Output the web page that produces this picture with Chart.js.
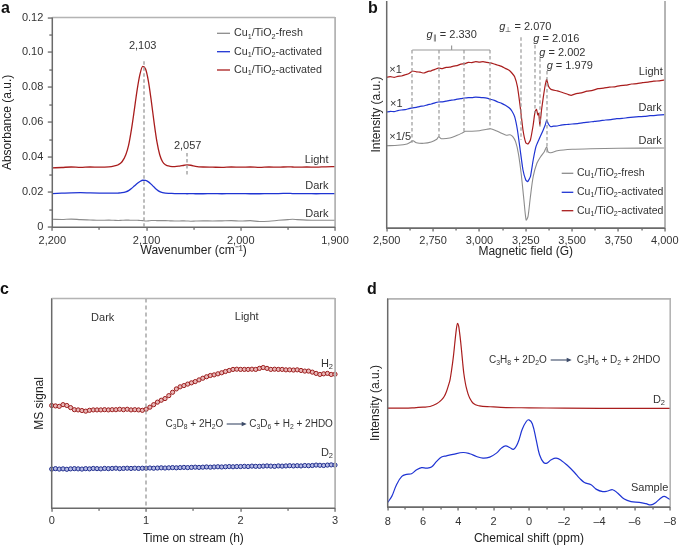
<!DOCTYPE html>
<html><head><meta charset="utf-8">
<script src="https://cdn.jsdelivr.net/npm/chart.js@4.4.1/dist/chart.umd.min.js"></script>
<style>
body{margin:0;background:#fff;width:685px;height:547px;overflow:hidden;position:relative}
canvas{position:absolute}
.frame{position:absolute;box-sizing:border-box;pointer-events:none;border-left:1.5px solid #6a6a6a;border-bottom:1.5px solid #6a6a6a;border-top:1.5px solid #b4b4b4;border-right:1.5px solid #b4b4b4}
.frame.notop{border-top:none}
</style></head><body>
<canvas id="ca" width="360" height="270" style="left:0;top:0"></canvas>
<canvas id="cb" width="343" height="270" style="left:342px;top:0"></canvas>
<canvas id="cc" width="360" height="277" style="left:0;top:270px"></canvas>
<canvas id="cd" width="343" height="277" style="left:342px;top:270px"></canvas>
<script>
// ---------- Panel a: IR spectra ----------
const aWavenumber = [2200,2190,2180,2170,2160,2150,2140,2135,2130,2126,2122,2119,2116,2113,2110,2107,2104,2101,2098,2095,2092,2089,2086,2083,2080,2075,2070,2065,2060,2057,2053,2048,2040,2030,2020,2010,2000,1990,1980,1970,1960,1950,1945,1940,1930,1920,1910,1900];
const aFreshDark = [.0046,.0045,.0047,.0044,.0042,.0040,.0041,.0040,.0039,.0040,.0041,.0041,.0040,.0040,.0040,.0039,.0038,.0036,.0037,.0039,.0039,.0038,.0038,.0038,.0038,.0037,.0036,.0036,.0037,.0036,.0035,.0036,.0037,.0036,.0037,.0038,.0036,.0038,.0033,.0035,.0040,.0044,.0046,.0044,.0041,.0040,.0040,.0040];
const aActivatedDark = [.0193,.0195,.0197,.0198,.0197,.0196,.0195,.0195,.0196,.0198,.0203,.0210,.0222,.0236,.0250,.0262,.0269,.0268,.0260,.0246,.0230,.0215,.0204,.0198,.0195,.0194,.0193,.0193,.0193,.0192,.0193,.0192,.0192,.0193,.0192,.0193,.0193,.0192,.0192,.0193,.0193,.0194,.0193,.0193,.0193,.0192,.0193,.0193];
const aActivatedLight = [.0340,.0342,.0345,.0343,.0345,.0344,.0346,.0350,.0358,.0375,.0415,.0470,.0560,.0670,.0785,.0875,.0920,.0905,.0835,.0725,.0600,.0490,.0415,.0375,.0358,.0349,.0347,.0350,.0355,.0357,.0355,.0349,.0345,.0344,.0343,.0345,.0344,.0345,.0343,.0345,.0344,.0346,.0345,.0344,.0345,.0344,.0346,.0347];
const aXMinor = [2150,2050,1950];
const aYMinor = [0.01,0.03,0.05,0.07,0.09,0.11];

// ---------- Panel b: EPR spectra ----------
const bFreshField = [2500,2560,2610,2630,2642,2660,2700,2740,2770,2780,2795,2840,2880,2910,2925,2960,3000,3040,3060,3090,3120,3145,3165,3180,3195,3210,3225,3240,3252,3262,3275,3290,3310,3330,3350,3363,3370,3385,3420,3500,3600,3750,4000];
const bFreshIntensity = [82.3,82.7,84,86,87.3,85.3,84.7,86,88.7,91.3,89.3,90,92.7,95.3,96.7,96.7,97.3,98.7,99.3,97.3,94.7,92.7,93.3,91.3,86.3,74.7,54.7,28,8,11.3,31.3,51.3,64.7,71.3,76.3,81.3,76.3,75.3,77.3,78.7,79.3,79.7,80];
const bDarkField = [2500,2520,2540,2560,2580,2600,2620,2640,2660,2680,2700,2720,2740,2760,2780,2800,2820,2840,2860,2880,2900,2920,2940,2960,2980,3000,3020,3040,3060,3080,3100,3120,3140,3160,3175,3190,3205,3220,3235,3250,3260,3275,3290,3305,3320,3340,3355,3363,3372,3385,3400,3420,3440,3460,3480,3500,3530,3560,3590,3620,3650,3680,3710,3740,3770,3800,3830,3860,3890,3920,3960,4000];
const bDarkIntensity = [116.0,116.6,116.4,117.4,118.0,118.4,119.4,120.2,120.6,121.6,122.0,123.2,124.0,125.2,126.0,126.2,126.8,127.6,128.0,128.8,129.3,130.0,130.4,130.4,130.8,130.6,130.3,129.8,128.7,127.6,126.0,124.6,122.7,120.2,117.0,111.3,98,78,58,48,46.3,51.3,68,81.3,88,96.3,103,108,104,101.3,101.8,102.0,102.8,103.3,103.6,104.0,104.4,105.3,105.8,106.7,107.2,108.0,108.4,109.3,109.6,110.3,110.8,111.3,111.6,112.3,112.8,113.3];
const bLightField = [2500,2520,2540,2560,2580,2600,2620,2640,2660,2680,2700,2720,2740,2760,2780,2800,2820,2840,2860,2880,2900,2920,2940,2960,2980,3000,3020,3040,3060,3080,3100,3120,3140,3160,3175,3190,3205,3220,3235,3250,3262,3275,3290,3300,3308,3315,3320,3326,3335,3345,3355,3363,3372,3385,3400,3420,3440,3460,3480,3495,3510,3530,3550,3580,3610,3640,3670,3700,3730,3760,3790,3820,3850,3880,3910,3940,3970,4000];
const bLightIntensity = [150.7,151.3,150.6,151.6,152.0,153.2,154.5,157.0,156.2,155.8,155.0,156.4,157.2,158.6,159.8,159.4,160.6,160.8,161.9,162.4,163.9,164.2,165.6,165.4,166.3,165.8,166.4,165.6,165.2,164.0,162.8,161.6,159.6,157.8,155.0,151.3,141.3,121.3,98,85.3,84,88,103,116.3,118.7,113,114.7,103,118,131.3,143,148.7,142,138.7,137.8,137.2,136.0,134.8,133.4,132.7,133.6,134.6,135.2,136.8,137.6,139.4,139.8,140.8,141.2,142.4,142.8,144.0,144.4,145.4,145.8,146.8,147.2,148.0];
const bXMinor = [2625,2875,3125,3375,3625,3875];
const bGParallel = [2638,2779.5,2919,3057];

// ---------- Panel c: MS signal ----------
const cTime = [0,0.04,0.08,0.12,0.16,0.2,0.24,0.28,0.32,0.36,0.4,0.44,0.48,0.52,0.56,0.6,0.64,0.68,0.72,0.76,0.8,0.84,0.88,0.92,0.96,1,1.04,1.08,1.12,1.16,1.2,1.24,1.28,1.32,1.36,1.4,1.44,1.48,1.52,1.56,1.6,1.64,1.68,1.72,1.76,1.8,1.84,1.88,1.92,1.96,2,2.04,2.08,2.12,2.16,2.2,2.24,2.28,2.32,2.36,2.4,2.44,2.48,2.52,2.56,2.6,2.64,2.68,2.72,2.76,2.8,2.84,2.88,2.92,2.96,3];
const cH2 = [49.0,48.8,48.6,49.4,49.0,48.0,47.0,46.9,46.6,46.3,46.7,46.9,46.9,46.9,47.0,46.9,47.0,47.0,47.2,47.0,47.2,46.9,47.0,46.9,46.7,47.2,48.2,49.4,50.6,51.5,52.3,53.7,55.3,56.9,57.9,58.5,59.2,59.8,60.4,61.2,62.0,62.7,63.3,63.6,64.1,64.6,65.2,65.7,66.2,66.3,66.2,66.2,66.2,66.3,66.2,66.7,67.1,66.7,66.2,66.3,66.2,66.2,66.0,66.0,65.9,66.0,65.7,65.4,65.4,64.9,64.3,63.8,64.1,64.3,63.8,63.9];
const cD2 = [18.7,18.9,18.7,18.8,18.6,18.8,18.9,18.8,18.7,18.9,18.8,19.0,18.9,18.8,19.0,18.9,19.0,19.1,18.9,19.0,19.1,19.0,19.1,19.0,19.1,19.1,19.2,19.1,19.2,19.3,19.2,19.3,19.4,19.3,19.4,19.5,19.4,19.5,19.6,19.5,19.6,19.7,19.6,19.7,19.8,19.7,19.8,19.9,19.8,19.9,19.9,20.0,19.9,20.1,20.0,20.0,20.1,20.2,20.1,20.0,20.2,20.1,20.2,20.3,20.2,20.3,20.2,20.4,20.3,20.4,20.6,20.5,20.4,20.6,20.7,20.6];
const cXMinor = [0.5,1.5,2.5];

// ---------- Panel d: NMR ----------
const dShiftD2 = [8,7,6.5,6,5.6,5.23,4.95,4.8,4.67,4.55,4.47,4.38,4.28,4.2,4.14,4.05,3.98,3.9,3.82,3.75,3.69,3.6,3.54,3.45,3.35,3.16,2.8,2.2,1.3,0,-2,-4,-6,-8];
const dIntensityD2 = [47.5,47.5,47.7,48.0,48.3,49.6,51.5,53.1,55.5,58.7,61.1,65.9,72.3,78.7,83.5,88.3,87.0,81.9,75.5,69.1,64.3,59.5,57.1,54.4,52.3,49.9,48.6,48.2,47.8,47.7,47.5,47.4,47.4,47.4];
const dShiftSample = [8,7.77,7.5,7.2,6.93,6.65,6.36,6.08,5.8,5.52,5.23,4.95,4.67,4.3,3.73,3.35,2.97,2.6,2.22,1.84,1.56,1.32,1.09,0.87,0.62,0.38,0.15,0,-0.19,-0.41,-0.6,-0.83,-1.02,-1.26,-1.54,-1.83,-2.2,-2.58,-2.86,-3.14,-3.52,-3.8,-4.18,-4.46,-4.74,-5.02,-5.4,-5.78,-6.25,-6.63,-6.91,-7.19,-7.47,-7.66,-7.85,-8];
const dIntensitySample = [2.2,5.1,10.7,14.7,15.7,16.0,17.9,18.9,18.7,19.2,21.9,24.0,24.6,25.3,26.2,25.6,24.3,23.5,24.0,25.9,28.3,29.4,28.6,27.8,31.0,37.4,41.1,41.9,40.0,32.3,25.1,21.4,21.1,22.7,23.5,22.4,19.8,16.6,13.9,11.8,10.7,8.6,7.4,7.7,8.3,6.7,3.8,2.6,2.2,1.6,1.0,2.2,4.3,5.1,4.3,3.5];
const dXMinor = [7,5,3,1,-1,-3,-5,-7];

// ---------- styling ----------
const FONT = "'Liberation Sans', Arial, Helvetica, sans-serif";
Chart.defaults.font.family = FONT;
Chart.defaults.color = '#333';
const RED = '#a91d1d', BLUE = '#1f34d3', GRAY = '#8c8c8c';
const C_RED_M = '#9b1c1c', C_BLUE_M = '#1d2b8c';
const AXIS = '#6a6a6a', FRAME = '#b0b0b0';

const pts = (xs, ys) => xs.map((x, i) => ({x, y: ys[i]}));

function rich(ctx, str, x, y, size, align, color) {
  const segs = []; let it = false; let cur = {t: '', m: 0, it};
  const push = () => { if (cur.t) segs.push(cur); };
  for (let i = 0; i < str.length; i++) {
    const c = str[i];
    if (c === '_' || c === '^') { push(); segs.push({t: str[i+1], m: c === '_' ? 1 : -1, it}); i++; cur = {t: '', m: 0, it}; }
    else if (c === '~') { push(); it = !it; cur = {t: '', m: 0, it}; }
    else cur.t += c;
  }
  push();
  const fontOf = s => (s.it ? 'italic ' : '') + (s.m ? size * 0.68 : size) + 'px ' + FONT;
  let w = 0;
  for (const s of segs) { ctx.font = fontOf(s); s.w = ctx.measureText(s.t).width; w += s.w; }
  let px = align === 'center' ? x - w / 2 : align === 'right' ? x - w : x;
  ctx.fillStyle = color; ctx.textBaseline = 'middle'; ctx.textAlign = 'left';
  for (const s of segs) {
    ctx.font = fontOf(s);
    ctx.fillText(s.t, px, y + (s.m === 1 ? size * 0.3 : s.m === -1 ? -size * 0.35 : 0));
    px += s.w;
  }
}

// frame and tick marks, positioned through the chart's scales
const frameTicks = {
  id: 'frameTicks',
  afterDraw(chart) {
    const o = chart.config.options.plugins.decor || {};
    const ctx = chart.ctx, ca = chart.chartArea;
    const xs = chart.scales.x, ys = chart.scales.y;
    const seg = (x1, y1, x2, y2) => { ctx.beginPath(); ctx.moveTo(x1, y1); ctx.lineTo(x2, y2); ctx.stroke(); };
    ctx.save();
    ctx.setLineDash([]);
    ctx.lineWidth = 1.5;
    ctx.strokeStyle = FRAME;
    if (o.frameTop !== false) seg(ca.left, ca.top, ca.right, ca.top + 0.01);
    seg(ca.right, ca.top, ca.right + 0.01, ca.bottom);
    ctx.strokeStyle = AXIS;
    seg(ca.left, ca.top, ca.left + 0.01, ca.bottom);
    seg(ca.left, ca.bottom, ca.right, ca.bottom + 0.01);
    ctx.fillStyle = AXIS;
    const tickX = (v, len) => { const p = Math.round(xs.getPixelForValue(v)); ctx.fillRect(p - 0.6, ca.bottom, 1.3, len); };
    const tickY = (v, len) => { const p = Math.round(ys.getPixelForValue(v)); ctx.fillRect(ca.left - len, p - 0.6, len, 1.3); };
    xs.ticks.forEach(t => tickX(t.value, 3.5));
    (o.minorX || []).forEach(v => tickX(v, 2.5));
    if (o.yTicks) {
      ys.ticks.forEach(t => tickY(t.value, 4.5));
      (o.minorY || []).forEach(v => tickY(v, 3));
    }
    ctx.restore();
  }
};

const decor = {
  id: 'decor',
  afterDraw(chart, args, o) {
    const ctx = chart.ctx;
    const xs = chart.scales.x, ys = chart.scales.y;
    const X = v => xs.getPixelForValue(v), Y = v => ys.getPixelForValue(v);
    const ox = o.ox, oy = o.oy;
    const seg = (x1, y1, x2, y2) => { ctx.beginPath(); ctx.moveTo(x1, y1); ctx.lineTo(x2, y2); ctx.stroke(); };
    ctx.save();
    ctx.lineWidth = 1.2;
    ctx.strokeStyle = '#999';
    (o.lines || []).forEach(d => seg(X(d.x0), Y(d.y0), X(d.x1), Y(d.y1)));
    ctx.setLineDash(o.dash || [3.5, 2.5]);
    ctx.lineWidth = o.dashWidth || 1.2;
    (o.dashes || []).forEach(d => { const p = Math.round(X(d.x)); seg(p, Y(d.y0), p, Y(d.y1)); });
    ctx.setLineDash([]);
    ctx.lineWidth = 1;
    (o.arrows || []).forEach(a => {
      ctx.strokeStyle = '#3d4b68'; ctx.fillStyle = '#3d4b68'; ctx.lineWidth = 1.1;
      const y = a.y - oy;
      seg(a.x0 - ox, y, a.x1 - ox - 4, y);
      ctx.beginPath(); ctx.moveTo(a.x1 - ox, y); ctx.lineTo(a.x1 - ox - 5, y - 2.3); ctx.lineTo(a.x1 - ox - 5, y + 2.3); ctx.closePath(); ctx.fill();
    });
    (o.texts || []).forEach(t => rich(ctx, t.s, t.x - ox, t.y - oy, t.size || 11, t.align || 'left', t.color || '#333'));
    if (o.legend) {
      const g = o.legend;
      g.rows.forEach(r => {
        ctx.strokeStyle = r.c; ctx.lineWidth = 1.3;
        seg(g.x0 - ox, r.y - oy, g.x1 - ox, r.y - oy);
        rich(ctx, r.s, g.tx - ox, r.y - oy, g.size || 11, 'left', '#333');
      });
    }
    if (o.letter) {
      ctx.font = 'bold 16px ' + FONT; ctx.fillStyle = '#111'; ctx.textAlign = 'left'; ctx.textBaseline = 'alphabetic';
      ctx.fillText(o.letter.s, o.letter.x - ox, o.letter.y - oy);
    }
    ctx.restore();
  }
};

function baseOptions(p) {
  return {
    responsive: false, animation: false, devicePixelRatio: 1,
    layout: {padding: {top: p.top, right: p.right, left: 0, bottom: 0}},
    plugins: {legend: {display: false}, tooltip: {enabled: false}, decor: p.decor},
    elements: {point: {radius: 0}},
    scales: {
      x: {
        type: 'linear', reverse: !!p.reverse, min: p.xmin, max: p.xmax,
        afterFit: s => { s.height = p.xh; },
        grid: {display: false, drawTicks: false},
        border: {display: false},
        ticks: {stepSize: p.xstep, padding: p.xpad, autoSkip: false, maxRotation: 0, font: {size: 11}, color: '#333', callback: p.xfmt},
        title: {display: true, text: p.xtitle, color: '#222', font: {size: 12}, padding: {top: 0, bottom: p.xtpad}}
      },
      y: {
        type: 'linear', min: p.ymin, max: p.ymax,
        afterFit: s => { s.width = p.yw; },
        grid: {display: false, drawTicks: false},
        border: {display: false},
        ticks: p.yticks ? {stepSize: p.ystep, padding: p.ypad, font: {size: 11}, color: '#333', callback: p.yfmt} : {display: false},
        title: {display: true, text: p.ytitle, color: '#222', font: {size: 12}, padding: {top: p.ytpad, bottom: 0}}
      }
    }
  };
}

// box around each plot area, placed from the chart's computed chartArea
function addFrame(chart, left, top, noTop) {
  const ca = chart.chartArea;
  const d = document.createElement('div');
  d.className = 'frame' + (noTop ? ' notop' : '');
  d.style.left = (left + ca.left - 0.75) + 'px';
  d.style.top = (top + ca.top - (noTop ? 0 : 0.75)) + 'px';
  d.style.width = (ca.right - ca.left + 1.5) + 'px';
  d.style.height = (ca.bottom - ca.top + (noTop ? 0.75 : 1.5)) + 'px';
  document.body.appendChild(d);
}

const comma = v => Number(v).toLocaleString('en-US');

// ---- a ----
const chartA = new Chart(document.getElementById('ca'), {
  type: 'line',
  data: {datasets: [
    {data: pts(aWavenumber, aFreshDark), borderColor: GRAY, borderWidth: 1.1, cubicInterpolationMode: 'monotone'},
    {data: pts(aWavenumber, aActivatedDark), borderColor: BLUE, borderWidth: 1.3, cubicInterpolationMode: 'monotone'},
    {data: pts(aWavenumber, aActivatedLight), borderColor: RED, borderWidth: 1.3, cubicInterpolationMode: 'monotone'}
  ]},
  options: baseOptions({
    top: 17.5, right: 25, xh: 42.7, yw: 52.3, reverse: true, xmin: 1900, xmax: 2200, xstep: 100, xpad: 7.1, xfmt: comma,
    xtitle: 'Wavenumber (cm⁻¹)', xtpad: 12,
    ymin: 0, ymax: 0.12, yticks: true, ystep: 0.02, ypad: 9, yfmt: v => v === 0 ? '0' : v.toFixed(2),
    ytitle: 'Absorbance (a.u.)', ytpad: 0.5,
    decor: {
      ox: 0, oy: 0, yTicks: true, minorX: aXMinor, minorY: aYMinor,
      dashes: [{x: 2103, y0: 0.095, y1: 0}, {x: 2057, y0: 0.0425, y1: 0.0293}],
      dashWidth: 1.3,
      texts: [
        {s: '2,103', x: 142.7, y: 46, align: 'center'},
        {s: '2,057', x: 187.7, y: 146, align: 'center'},
        {s: 'Light', x: 328.5, y: 160, align: 'right'},
        {s: 'Dark', x: 328.5, y: 186, align: 'right'},
        {s: 'Dark', x: 328.5, y: 214, align: 'right'}
      ],
      legend: {x0: 217, x1: 230, tx: 234, size: 10.7, rows: [
        {y: 33.3, c: GRAY, s: 'Cu_1/TiO_2-fresh'},
        {y: 51.7, c: BLUE, s: 'Cu_1/TiO_2-activated'},
        {y: 70, c: RED, s: 'Cu_1/TiO_2-activated'}
      ]},
      letter: {s: 'a', x: 1, y: 12.7}
    }
  }),
  plugins: [frameTicks, decor]
});
addFrame(chartA, 0, 0, false);

// ---- b ----
const bTop = 1;
const chartB = new Chart(document.getElementById('cb'), {
  type: 'line',
  data: {datasets: [
    {data: pts(bFreshField, bFreshIntensity), borderColor: GRAY, borderWidth: 1.1, tension: 0.25},
    {data: pts(bDarkField, bDarkIntensity), borderColor: BLUE, borderWidth: 1.2, tension: 0.15},
    {data: pts(bLightField, bLightIntensity), borderColor: RED, borderWidth: 1.2, tension: 0.15}
  ]},
  options: baseOptions({
    top: bTop, right: 15.7, xh: 42, yw: 44.7, reverse: false, xmin: 2500, xmax: 4000, xstep: 250, xpad: 6.4, xfmt: comma,
    xtitle: 'Magnetic field (G)', xtpad: 11.1,
    ymin: 0, ymax: 228 - bTop, yticks: false,
    ytitle: 'Intensity (a.u.)', ytpad: 27.5,
    decor: {
      ox: 342, oy: 0, minorX: bXMinor, frameTop: false,
      lines: [
        {x0: bGParallel[0], y0: 178, x1: bGParallel[3], y1: 178},
        {x0: 2850, y0: 178, x1: 2850, y1: 182.5}
      ],
      dashes: [
        {x: bGParallel[0], y0: 178, y1: 85.3}, {x: bGParallel[1], y0: 178, y1: 90.7},
        {x: bGParallel[2], y0: 178, y1: 96.3}, {x: bGParallel[3], y0: 178, y1: 98.7},
        {x: 3221.7, y0: 190.7, y1: 88}, {x: 3301, y0: 183, y1: 114.7},
        {x: 3326, y0: 169.7, y1: 101.3}, {x: 3363, y0: 157, y1: 74.7}
      ],
      texts: [
        {s: '~g~_∥ = 2.330', x: 451.7, y: 35, align: 'center'},
        {s: '~g~_⊥ = 2.070', x: 499.3, y: 26.7},
        {s: '~g~ = 2.016', x: 533.3, y: 39.3},
        {s: '~g~ = 2.002', x: 539.3, y: 52.7},
        {s: '~g~ = 1.979', x: 546.7, y: 66},
        {s: '×1', x: 389.3, y: 70}, {s: '×1', x: 390, y: 104}, {s: '×1/5', x: 389.3, y: 137},
        {s: 'Light', x: 662.7, y: 72, align: 'right'},
        {s: 'Dark', x: 661.7, y: 108, align: 'right'},
        {s: 'Dark', x: 661.7, y: 141, align: 'right'}
      ],
      legend: {x0: 561.7, x1: 573.3, tx: 577, size: 10.5, rows: [
        {y: 173.3, c: GRAY, s: 'Cu_1/TiO_2-fresh'},
        {y: 192.3, c: BLUE, s: 'Cu_1/TiO_2-activated'},
        {y: 210.7, c: RED, s: 'Cu_1/TiO_2-activated'}
      ]},
      letter: {s: 'b', x: 368, y: 13.3}
    }
  }),
  plugins: [frameTicks, decor]
});
addFrame(chartB, 342, 0, true);

// ---- c ----
const chartC = new Chart(document.getElementById('cc'), {
  type: 'line',
  data: {datasets: [
    {data: pts(cTime, cH2), showLine: false, pointRadius: 2.1, pointBorderWidth: 1, pointBorderColor: C_RED_M, pointBackgroundColor: '#e9b8b8', clip: false},
    {data: pts(cTime, cD2), showLine: false, pointRadius: 2.1, pointBorderWidth: 1, pointBorderColor: C_BLUE_M, pointBackgroundColor: '#b8bde6', clip: false}
  ]},
  options: baseOptions({
    top: 28.5, right: 25, xh: 38.7, yw: 51.7, reverse: false, xmin: 0, xmax: 3, xstep: 1, xpad: 5.8, xfmt: v => String(v),
    xtitle: 'Time on stream (h)', xtpad: 1.5,
    ymin: 0, ymax: 100, yticks: false,
    ytitle: 'MS signal', ytpad: 32,
    decor: {
      ox: 0, oy: 270, minorX: cXMinor,
      dashes: [{x: 1, y0: 100, y1: 0}], dash: [4, 3], dashWidth: 1.3,
      texts: [
        {s: 'Dark', x: 102.7, y: 318.3, align: 'center'},
        {s: 'Light', x: 246.7, y: 317.3, align: 'center'},
        {s: 'H_2', x: 333, y: 364, align: 'right'},
        {s: 'D_2', x: 333, y: 452.7, align: 'right'},
        {s: 'C_3D_8 + 2H_2O', x: 223.3, y: 424, size: 10, align: 'right'},
        {s: 'C_3D_6 + H_2 + 2HDO', x: 249.3, y: 424, size: 10}
      ],
      arrows: [{x0: 226.7, x1: 246.7, y: 424}],
      letter: {s: 'c', x: 0, y: 294}
    }
  }),
  plugins: [frameTicks, decor]
});
addFrame(chartC, 0, 270, false);

// ---- d ----
const chartD = new Chart(document.getElementById('cd'), {
  type: 'line',
  data: {datasets: [
    {data: pts(dShiftD2, dIntensityD2), borderColor: RED, borderWidth: 1.2, cubicInterpolationMode: 'monotone'},
    {data: pts(dShiftSample, dIntensitySample), borderColor: BLUE, borderWidth: 1.2, tension: 0.4}
  ]},
  options: baseOptions({
    top: 29, right: 14, xh: 40, yw: 45.7, reverse: true, xmin: -8, xmax: 8, xstep: 2, xpad: 8.7, xfmt: v => v < 0 ? '–' + (-v) : String(v),
    xtitle: 'Chemical shift (ppm)', xtpad: 1.5,
    ymin: 0, ymax: 100, yticks: false,
    ytitle: 'Intensity (a.u.)', ytpad: 26.1,
    decor: {
      ox: 342, oy: 270, minorX: dXMinor,
      texts: [
        {s: 'C_3H_8 + 2D_2O', x: 546.7, y: 360, size: 10, align: 'right'},
        {s: 'C_3H_6 + D_2 + 2HDO', x: 576.7, y: 360, size: 10},
        {s: 'D_2', x: 665, y: 400, align: 'right'},
        {s: 'Sample', x: 668.3, y: 488.3, align: 'right'}
      ],
      arrows: [{x0: 550.7, x1: 571.7, y: 360}],
      letter: {s: 'd', x: 367, y: 294}
    }
  }),
  plugins: [frameTicks, decor]
});
addFrame(chartD, 342, 270, false);
</script>
</body></html>
